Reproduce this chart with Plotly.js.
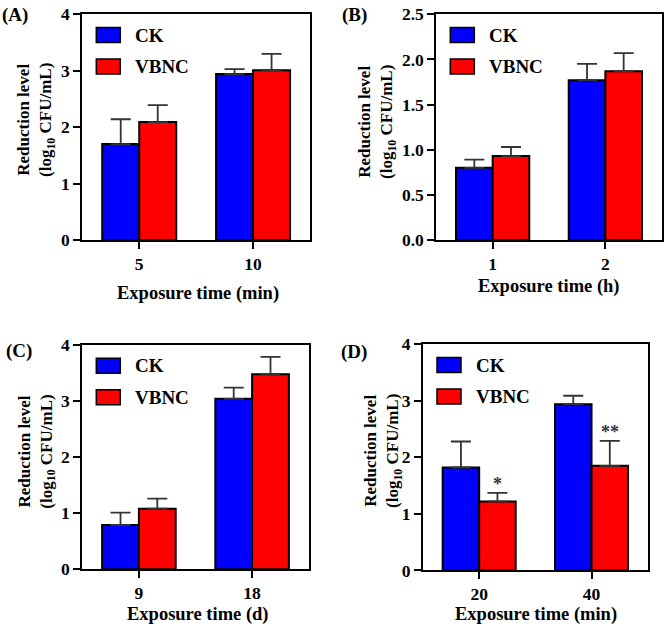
<!DOCTYPE html>
<html>
<head>
<meta charset="utf-8">
<script src="https://cdn.plot.ly/plotly-3.0.1.min.js"></script>
<style>html,body{margin:0;padding:0;background:#fff;}#chart{width:666px;height:632px;}</style>
</head>
<body>
<div id="chart"></div>
<script>
// ---- data ----
const catsA = ["5", "10"];
const ckA = [1.70, 2.94];
const ckErrA = [0.44, 0.09];
const vbA = [2.09, 3.01];
const vbErrA = [0.30, 0.29];

const catsB = ["1", "2"];
const ckB = [0.80, 1.77];
const ckErrB = [0.09, 0.18];
const vbB = [0.93, 1.87];
const vbErrB = [0.10, 0.20];

const catsC = ["9", "18"];
const ckC = [0.79, 3.04];
const ckErrC = [0.22, 0.20];
const vbC = [1.08, 3.48];
const vbErrC = [0.18, 0.31];

const catsD = ["20", "40"];
const ckD = [1.82, 2.94];
const ckErrD = [0.46, 0.15];
const vbD = [1.22, 1.85];
const vbErrD = [0.15, 0.44];
const starsD = ["*", "**"];

const seriesNames = ["CK", "VBNC"];
const panelLabels = ["(A)", "(B)", "(C)", "(D)"];
const xTitles = ["Exposure time (min)", "Exposure time (h)", "Exposure time (d)", "Exposure time (min)"];
const yTitle = "Reduction level<br>(log<sub>10</sub> CFU/mL)";

// ---- layout helpers ----
const W = 666, H = 632;
const px = v => v / W;
const py = v => 1 - v / H;
const FONT = "Liberation Serif, Times New Roman, serif";
const BLUE = "#0000FF", RED = "#FF0000";

// panel boxes in pixels: left, right, top, bottom
const boxes = [
  {l: 82.3, r: 310, t: 14.3, b: 240},
  {l: 436.3, r: 661.7, t: 14.3, b: 240},
  {l: 82.3, r: 308.7, t: 345, b: 569.3},
  {l: 423, r: 647.7, t: 344.3, b: 570.4}
];

const panels = [
  {cats: catsA, ck: ckA, ckE: ckErrA, vb: vbA, vbE: vbErrA, yr: [0, 4], dtick: 1, fmt: "d"},
  {cats: catsB, ck: ckB, ckE: ckErrB, vb: vbB, vbE: vbErrB, yr: [0, 2.5], dtick: 0.5, fmt: ".1f"},
  {cats: catsC, ck: ckC, ckE: ckErrC, vb: vbC, vbE: vbErrC, yr: [0, 4], dtick: 1, fmt: "d"},
  {cats: catsD, ck: ckD, ckE: ckErrD, vb: vbD, vbE: vbErrD, yr: [0, 4], dtick: 1, fmt: "d"}
];

const data = [];
const layout = {
  width: W, height: H,
  margin: {l: 0, r: 0, t: 0, b: 0},
  paper_bgcolor: "#fff", plot_bgcolor: "#fff",
  showlegend: false,
  barmode: "group", bargap: 0.35, bargroupgap: 0,
  font: {family: FONT, color: "#000", size: 18},
  shapes: [], annotations: []
};

// label positions (pixels)
const yTitlePos = [[36, 120], [377, 122], [36.7, 452], [383, 451]];
const xTitlePos = [[197.5, 293], [549, 286], [197.5, 614], [536, 614]];
const labelPos = [[15, 14.5], [354, 15], [19, 351], [354, 351.5]];

panels.forEach((p, i) => {
  const n = i + 1;
  const xa = "x" + (n === 1 ? "" : n), ya = "y" + (n === 1 ? "" : n);
  const bx = boxes[i];
  [[p.ck, p.ckE, BLUE, seriesNames[0]], [p.vb, p.vbE, RED, seriesNames[1]]].forEach(([vals, errs, col, name]) => {
    data.push({
      type: "bar", x: p.cats, y: vals, name: name, xaxis: xa, yaxis: ya,
      marker: {color: col, line: {color: "#000", width: 2}},
      error_y: {type: "data", symmetric: false, array: errs, arrayminus: errs.map(() => 0),
                color: "#333", thickness: 1.8, width: 10},
      hoverinfo: "x+y+name"
    });
  });
  const axCommon = {
    showline: true, linecolor: "#000", linewidth: 2, mirror: true,
    ticks: "outside", ticklen: 7, tickwidth: 2, tickcolor: "#000",
    showgrid: false, zeroline: false, fixedrange: true,
    tickfont: {family: FONT, size: 17.5, color: "#000", weight: "bold"}
  };
  layout["xaxis" + (n === 1 ? "" : n)] = Object.assign({}, axCommon, {
    domain: [px(bx.l), px(bx.r)], anchor: ya, type: "category",
    categoryorder: "array", categoryarray: p.cats, range: [-0.5, 1.5]
  });
  layout["yaxis" + (n === 1 ? "" : n)] = Object.assign({}, axCommon, {
    domain: [py(bx.b), py(bx.t)], anchor: xa, range: p.yr, dtick: p.dtick, tick0: 0,
    tickformat: p.fmt
  });

  // legend boxes and labels
  [[BLUE, 0], [RED, 1]].forEach(([col, k]) => {
    const top = bx.t + 13.3 + k * 31.5;
    layout.shapes.push({
      type: "rect", xref: "paper", yref: "paper",
      x0: px(bx.l + 14), x1: px(bx.l + 38), y0: py(top), y1: py(top + 15),
      fillcolor: col, line: {color: "#000", width: 1.5}
    });
    layout.annotations.push({
      xref: "paper", yref: "paper", x: px(bx.l + 51), y: py(top + 7.5),
      xanchor: "left", yanchor: "middle", showarrow: false,
      text: seriesNames[k], font: {family: FONT, size: 19, color: "#000", weight: "bold"}
    });
  });

  // axis titles
  layout.annotations.push({
    xref: "paper", yref: "paper", x: px(yTitlePos[i][0]), y: py(yTitlePos[i][1]),
    xanchor: "center", yanchor: "middle", textangle: -90, showarrow: false,
    text: yTitle, font: {family: FONT, size: 17, color: "#000", weight: "bold"}
  });
  layout.annotations.push({
    xref: "paper", yref: "paper", x: px(xTitlePos[i][0]), y: py(xTitlePos[i][1]),
    xanchor: "center", yanchor: "middle", showarrow: false,
    text: xTitles[i], font: {family: FONT, size: 18.5, color: "#000", weight: "bold"}
  });
  layout.annotations.push({
    xref: "paper", yref: "paper", x: px(labelPos[i][0]), y: py(labelPos[i][1]),
    xanchor: "center", yanchor: "middle", showarrow: false,
    text: panelLabels[i], font: {family: FONT, size: 19, color: "#000", weight: "bold"}
  });
});

// significance marks on VBNC bars of panel D
starsD.forEach((s, j) => {
  layout.annotations.push({
    xref: "x4", yref: "y4", x: j + 0.1625, y: vbD[j] + vbErrD[j],
    xanchor: "center", yanchor: "bottom", showarrow: false, yshift: -3,
    text: s, font: {family: FONT, size: 18, color: "#333", weight: "bold"}
  });
});

Plotly.newPlot("chart", data, layout, {displayModeBar: false, staticPlot: true});
</script>
</body>
</html>
